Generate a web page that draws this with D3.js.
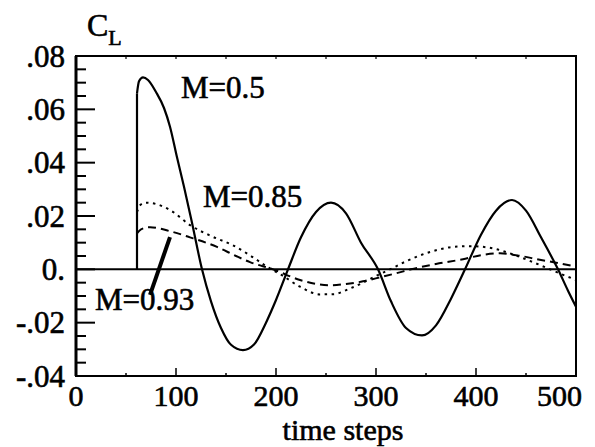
<!DOCTYPE html>
<html>
<head>
    <meta charset="utf-8" />
    <title>CL vs time steps</title>
    <script src="https://d3js.org/d3.v7.min.js"></script>
    <style>
        html, body {
            margin: 0;
            padding: 0;
            background: #fff;
        }
    </style>
</head>
<body>
<svg width="595" height="447"></svg>
<script>
    // time steps / lift coefficient
    var stepsM05 = [61, 63, 67, 72, 80, 88, 94, 101, 108, 116, 126, 135, 145, 155, 167, 178, 190, 200, 212, 225, 240, 255, 270, 285, 302, 315, 330, 346, 360, 375, 389, 405, 420, 436, 450, 465, 482, 492, 500];
    var clM05 = [0.066, 0.0705, 0.072, 0.071, 0.0665, 0.0605, 0.0535, 0.042, 0.031, 0.0175, 0.000, -0.012, -0.022, -0.0283, -0.0303, -0.0282, -0.020, -0.0115, 0.000, 0.012, 0.0215, 0.025, 0.021, 0.010, 0.000, -0.012, -0.022, -0.0248, -0.021, -0.011, 0.000, 0.013, 0.022, 0.026, 0.022, 0.012, 0.000, -0.008, -0.014];

    var stepsM085 = [61, 64, 70, 80, 95, 114, 135, 157, 175, 191, 205, 224, 244, 258, 272, 287, 300, 314, 330, 354, 375, 394, 415, 437, 455, 474, 490, 500];
    var clM085 = [0.0215, 0.024, 0.025, 0.0245, 0.022, 0.0166, 0.0125, 0.009, 0.005, 0.001, -0.002, -0.0065, -0.0094, -0.0093, -0.0075, -0.005, -0.0025, 0.000, 0.003, 0.0065, 0.0083, 0.0087, 0.008, 0.0056, 0.003, 0.000, -0.0025, -0.004];

    var stepsM093 = [61, 65, 74, 94, 114, 141, 160, 174, 197, 224, 254, 270, 287, 304, 320, 335, 360, 387, 405, 424, 445, 461, 480, 500];
    var clM093 = [0.0135, 0.015, 0.0158, 0.0143, 0.012, 0.0084, 0.005, 0.0027, 0.000, -0.004, -0.006, -0.0055, -0.0045, -0.003, -0.0015, 0.000, 0.002, 0.0038, 0.0053, 0.006, 0.005, 0.0038, 0.0025, 0.001];

    var jumpStep = 61;
    var xTicks = [0, 100, 200, 300, 400, 500];
    var yTicks = [-0.04, -0.02, 0, 0.02, 0.04, 0.06, 0.08];
    var yTickLabels = ["-.04", "-.02", "0.", ".02", ".04", ".06", ".08"];

    var labels = [
        { text: "M=0.5", step: 105, cl: 0.0642 },
        { text: "M=0.85", step: 127, cl: 0.0234 },
        { text: "M=0.93", step: 19, cl: -0.0153 }
    ];
    var leader = [[74, -0.0096], [94, 0.0121]];

    var FONT = "Liberation Serif";

    var svg = d3.select("svg");
    var x = d3.scaleLinear().domain([0, 500]).range([76, 576]);
    var y = d3.scaleLinear().domain([-0.04, 0.08]).range([376, 56]);

    function zip(a, b) { return a.map(function (d, i) { return [d, b[i]]; }); }

    // serif text, slightly thickened like the scanned original
    function txt(sel, size) {
        return sel.attr("font-family", FONT)
            .attr("font-size", size)
            .attr("fill", "#000")
            .attr("stroke", "#000")
            .attr("stroke-width", 0.6);
    }

    var series = [
        { data: zip(stepsM05, clM05), dash: null, w: 2.2 },
        { data: zip(stepsM085, clM085), dash: "2.5,4.5", w: 2 },
        { data: zip(stepsM093, clM093), dash: "8,5", w: 2 }
    ];

    var g = svg.append("g");

    // left axis ticks: minor every .005, long ones every .02
    d3.range(-8, 17).forEach(function (k) {
        var major = k % 4 === 0;
        g.append("line")
            .attr("x1", x(0)).attr("x2", x(0) + (major ? 19 : 10))
            .attr("y1", y(k * 0.005)).attr("y2", y(k * 0.005))
            .attr("stroke", "#000").attr("stroke-width", 2);
    });

    // bottom and top ticks
    d3.range(0, 501, 50).forEach(function (s) {
        var major = s % 100 === 0;
        g.append("line")
            .attr("x1", x(s)).attr("x2", x(s))
            .attr("y1", y(-0.04)).attr("y2", y(-0.04) - (major ? 8 : 3))
            .attr("stroke", "#000").attr("stroke-width", 1.5);
        g.append("line")
            .attr("x1", x(s)).attr("x2", x(s))
            .attr("y1", y(0.08)).attr("y2", y(0.08) + 3)
            .attr("stroke", "#000").attr("stroke-width", 1.2);
    });

    // frame
    g.append("rect")
        .attr("x", x(0)).attr("y", y(0.08))
        .attr("width", x(500) - x(0)).attr("height", y(-0.04) - y(0.08))
        .attr("fill", "none").attr("stroke", "#000").attr("stroke-width", 2);
    g.append("line")
        .attr("x1", x(0)).attr("x2", x(0))
        .attr("y1", y(0.08)).attr("y2", y(-0.04))
        .attr("stroke", "#000").attr("stroke-width", 3);

    // zero line
    g.append("line")
        .attr("x1", x(0)).attr("x2", x(500))
        .attr("y1", y(0)).attr("y2", y(0))
        .attr("stroke", "#000").attr("stroke-width", 2);

    // tick labels
    txt(svg.append("g").selectAll("text").data(yTicks).enter().append("text"), 31)
        .attr("x", 65).attr("y", function (d) { return y(d); })
        .attr("dy", "0.34em")
        .attr("text-anchor", "end")
        .text(function (d, i) { return yTickLabels[i]; });

    txt(svg.append("g").selectAll("text").data(xTicks).enter().append("text"), 30)
        .attr("x", function (d) { return d === 500 ? x(d) + 6 : x(d); }).attr("y", 406)
        .attr("text-anchor", function (d) { return d === 500 ? "end" : "middle"; })
        .text(function (d) { return d; });

    txt(svg.append("text"), 30)
        .attr("x", 343).attr("y", 440)
        .attr("text-anchor", "middle")
        .text("time steps");

    var cl = txt(svg.append("text"), 32).attr("x", 87).attr("y", 36);
    cl.append("tspan").text("C");
    cl.append("tspan").attr("dy", 9).attr("font-size", 22).text("L");

    // curves
    var line = d3.line()
        .x(function (d) { return x(d[0]); })
        .y(function (d) { return y(d[1]); })
        .curve(d3.curveMonotoneX);

    series.forEach(function (s) {
        // vertical jump at start
        svg.append("line")
            .attr("x1", x(jumpStep)).attr("x2", x(jumpStep))
            .attr("y1", y(0)).attr("y2", y(s.data[0][1]))
            .attr("stroke", "#000").attr("stroke-width", s.w)
            .attr("stroke-dasharray", s.dash);
        svg.append("path")
            .datum(s.data)
            .attr("d", line)
            .attr("fill", "none")
            .attr("stroke", "#000")
            .attr("stroke-width", s.w)
            .attr("stroke-dasharray", s.dash);
    });

    // labels
    txt(svg.append("g").selectAll("text").data(labels).enter().append("text"), 31)
        .attr("x", function (d) { return x(d.step); })
        .attr("y", function (d) { return y(d.cl); })
        .text(function (d) { return d.text; });

    svg.append("line")
        .attr("x1", x(leader[0][0])).attr("y1", y(leader[0][1]))
        .attr("x2", x(leader[1][0])).attr("y2", y(leader[1][1]))
        .attr("stroke", "#000").attr("stroke-width", 4);
</script>
</body>
</html>
